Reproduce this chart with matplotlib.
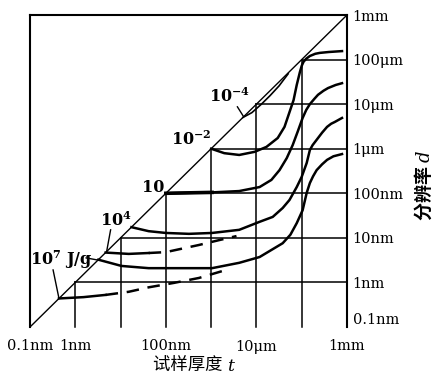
import numpy as np
import matplotlib
matplotlib.use('Agg')
import matplotlib.pyplot as plt

plt.rcParams['mathtext.fontset'] = 'dejavuserif'
SERIF = 'DejaVu Serif'
CJK = ['Noto Sans CJK SC', 'DejaVu Sans']

## data: log10 of thickness t and resolution d (metres)
t_m4 = [-5.3, -5.1, -4.9, -4.7, -4.5, -4.3]
d_m4 = [-5.3, -5.19, -5.01, -4.81, -4.59, -4.32]

t_m2 = [-6.0, -5.71, -5.38, -5.04, -4.78, -4.53, -4.38, -4.27, -4.18, -4.11, -4.04,
        -4.0, -3.96, -3.9, -3.82, -3.7, -3.6, -3.4, -3.11]
d_m2 = [-6.0, -6.10, -6.14, -6.07, -5.96, -5.76, -5.51, -5.18, -4.91, -4.57, -4.28,
        -4.14, -4.05, -3.98, -3.92, -3.87, -3.85, -3.83, -3.81]

t_10 = [-7.0, -5.98, -5.38, -4.93, -4.67, -4.49, -4.33, -4.20, -4.09, -3.98, -3.9,
        -3.82, -3.72, -3.64, -3.52, -3.42, -3.25, -3.11]
d_10 = [-7.0, -6.98, -6.95, -6.86, -6.70, -6.48, -6.21, -5.92, -5.62, -5.31, -5.13,
        -5.0, -4.88, -4.79, -4.70, -4.64, -4.57, -4.53]

t_4 = [-7.76, -7.38, -7.0, -6.49, -5.98, -5.38, -4.93, -4.64, -4.42, -4.27, -4.11, -4.0,
       -3.89, -3.82, -3.76, -3.67, -3.55, -3.44, -3.35, -3.27, -3.11]
d_4 = [-7.76, -7.85, -7.89, -7.91, -7.89, -7.82, -7.64, -7.53, -7.33, -7.15, -6.86, -6.63,
       -6.32, -6.03, -5.92, -5.80, -5.64, -5.51, -5.44, -5.40, -5.31]

t_7 = [-8.49, -7.98, -7.38, -7.0, -5.98, -5.38, -4.93, -4.42, -4.25, -4.11, -3.98, -3.89,
       -3.82, -3.75, -3.67, -3.55, -3.44, -3.3, -3.11]
d_7 = [-8.49, -8.63, -8.68, -8.68, -8.68, -8.56, -8.43, -8.12, -7.93, -7.67, -7.38, -6.99,
       -6.77, -6.62, -6.48, -6.35, -6.25, -6.17, -6.12]

# lower branches (solid start, then dashed)
t_4b = [-8.33, -7.82, -7.38, -7.0, -6.27, -5.82, -5.44]
d_4b = [-8.33, -8.36, -8.34, -8.32, -8.16, -8.05, -7.96]
t_7b = [-9.36, -8.82, -8.33, -7.82, -7.38, -6.82, -6.27, -5.67]
d_7b = [-9.36, -9.33, -9.28, -9.21, -9.11, -9.01, -8.90, -8.72]

decades = [-9, -8, -7, -6, -5, -4]
y_ticks = [-10, -9, -8, -7, -6, -5, -4, -3]
y_labels = ['0.1nm', '1nm', '10nm', '100nm', '1\u03bcm', '10\u03bcm', '100\u03bcm', '1mm']
x_ticks = [-10, -9, -7, -5, -3]
x_labels = ['0.1nm', '1nm', '100nm', '10\u03bcm', '1mm']

P = lambda v: 10.0 ** np.asarray(v)

fig = plt.figure(figsize=(4.35, 3.83), dpi=100)
ax = fig.add_axes([30/435, 56/383, 317/435, 312/383])
ax.set_xscale('log')
ax.set_yscale('log')
ax.set_xlim(1e-10, 1e-3)
ax.set_ylim(1e-10, 1e-3)

# triangular grid under the diagonal
for k in decades:
  ax.plot(P([k, k]), P([-10, k]), color='k', lw=1.1, clip_on=False)
  ax.plot(P([k, -3]), P([k, k]), color='k', lw=1.1, clip_on=False)
ax.plot(P([-10, -3]), P([-10, -3]), color='k', lw=1.0, clip_on=False)

lw = 1.8
ax.plot(P(t_m4), P(d_m4), color='k', lw=1.2)
ax.plot(P(t_m2), P(d_m2), color='k', lw=lw)
ax.plot(P(t_10), P(d_10), color='k', lw=lw)
ax.plot(P(t_10[:2]), P(d_10[:2]), color='k', lw=2.6)
ax.plot(P(t_4), P(d_4), color='k', lw=lw)
ax.plot(P(t_7), P(d_7), color='k', lw=lw)
for tt, dd in [(t_4b, d_4b), (t_7b, d_7b)]:
  ax.plot(P(tt[:3]), P(dd[:3]), color='k', lw=lw)
  ax.plot(P(tt[2:]), P(dd[2:]), color='k', lw=lw, ls=(0, (5, 3.5)))

# dose labels
kw = dict(fontfamily=SERIF, fontsize=11.5, fontweight='bold', ha='center', va='center')
ax.text(P(-5.60), P(-4.84), r'10$^{\mathbf{-4}}$', **kw)
ax.text(P(-6.44), P(-5.80), r'10$^{\mathbf{-2}}$', **kw)
ax.text(P(-7.27), P(-6.86), '10', **kw)
ax.text(P(-8.11), P(-7.62), r'10$^{\mathbf{4}}$', **kw)
ax.text(P(-9.30), P(-8.50), r'10$^{\mathbf{7}}$ J/g', **kw)
for (x0, y0), (x1, y1) in [((-5.42, -5.06), (-5.29, -5.27)),
                           ((-8.22, -7.82), (-8.31, -8.32)),
                           ((-8.76, -8.45), (-8.49, -8.50)),
                           ((-9.49, -8.72), (-9.36, -9.36))]:
  ax.plot(P([x0, x1]), P([y0, y1]), color='k', lw=1.0)

# frame: no bottom line
for s in ['left', 'top', 'right']:
  ax.spines[s].set_linewidth(1.5)
ax.spines['bottom'].set_visible(False)

ax.yaxis.tick_right()
ax.set_yticks(P(y_ticks), y_labels, fontfamily=SERIF, fontsize=10.5)
ax.set_xticks(P(x_ticks), x_labels, fontfamily=SERIF, fontsize=10.5)
ax.minorticks_off()
ax.tick_params(axis='both', length=0)
ax.tick_params(axis='y', pad=4)
ax.tick_params(axis='x', pad=9)
ax.get_yticklabels()[0].set_verticalalignment('bottom')

fig.text(226/435, 1 - 365/383, '试样厚度 ', fontfamily=CJK, fontsize=12.5, ha='right', va='center')
fig.text(227/435, 1 - 366/383, '$t$', fontsize=12.5, ha='left', va='center')
fig.text(423/435, 1 - 185/383, '分辨率 $d$', fontfamily=CJK, fontsize=13, fontweight='bold',
         rotation=90, ha='center', va='center')

fig.savefig('out.png', dpi=100)
